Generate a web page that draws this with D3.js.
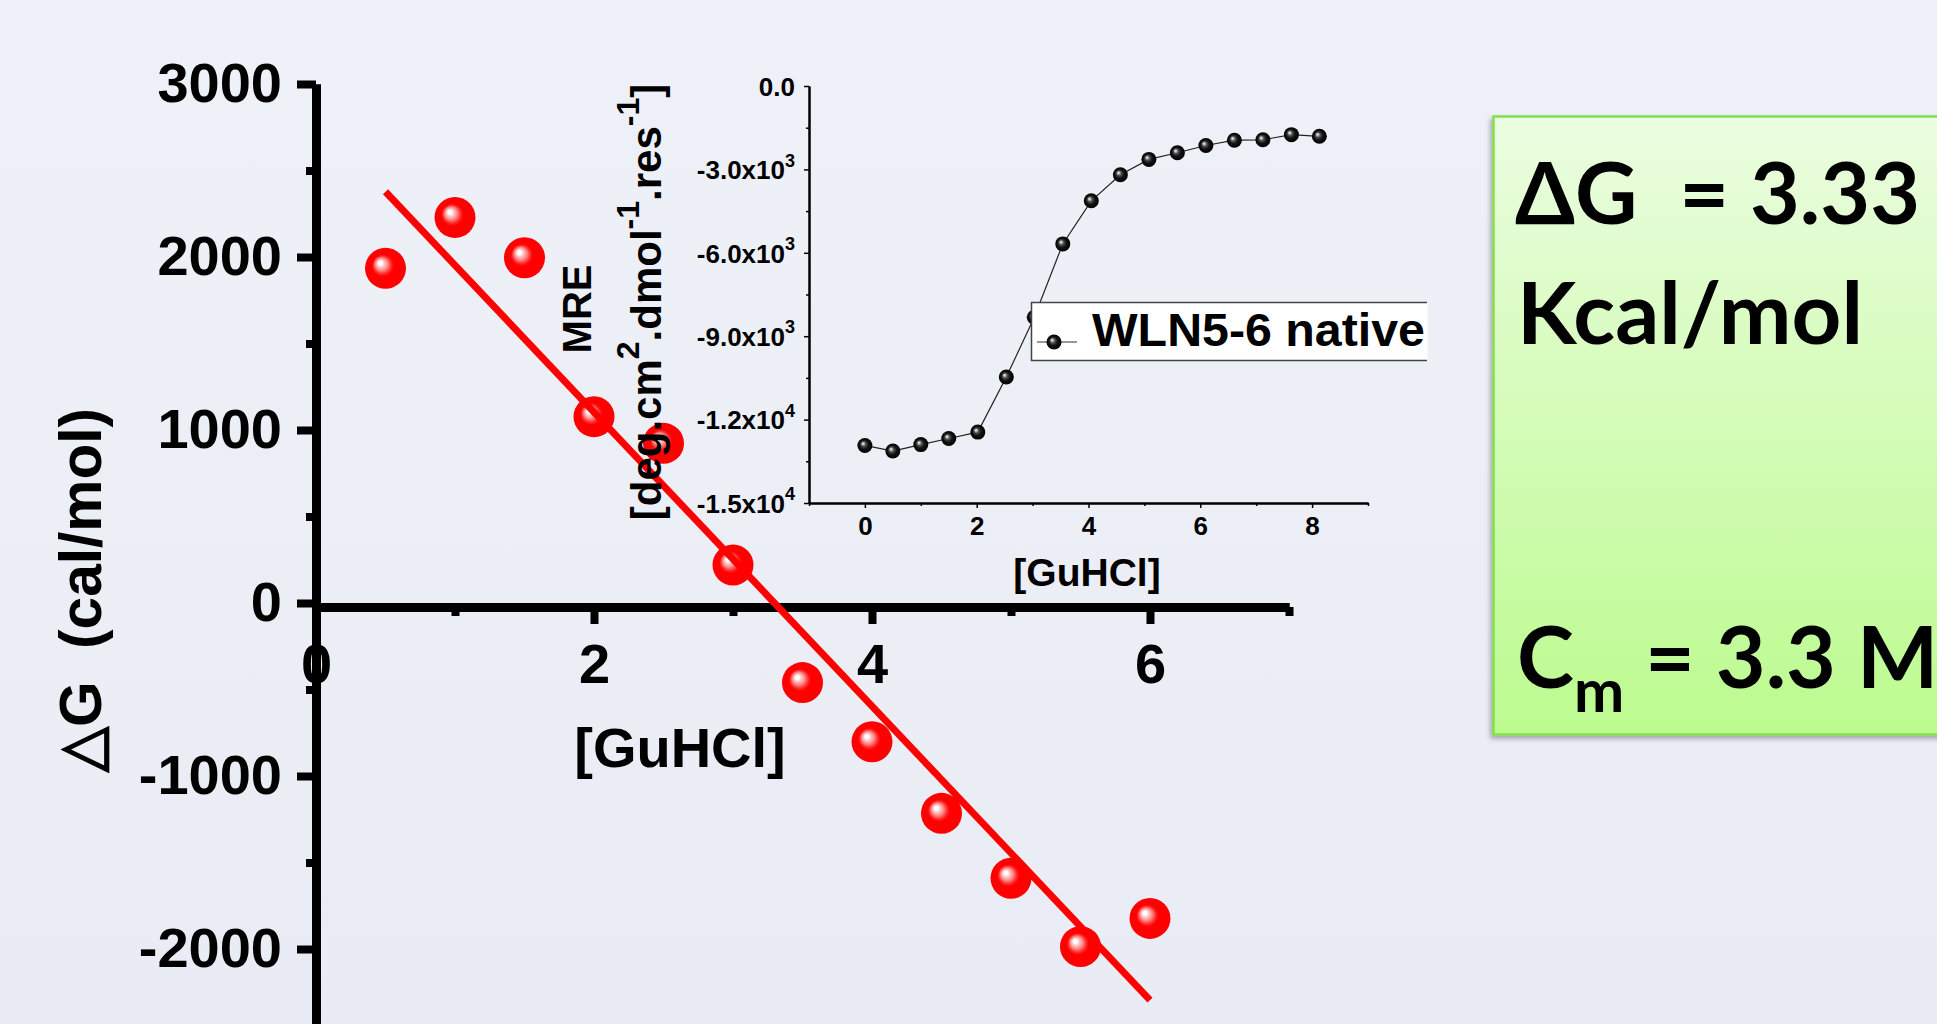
<!DOCTYPE html>
<html>
<head>
<meta charset="utf-8">
<script src="https://cdn.jsdelivr.net/npm/d3@7"></script>
<style>
  body { margin: 0; overflow: hidden; background: #edeff6; }
  text { font-family: "Liberation Sans", Arial, sans-serif; font-weight: bold; }
</style>
</head>
<body>
<svg id="chart"></svg>
<script>
// main plot: deltaG against denaturant concentration
const guhcl = [0.5, 1, 1.5, 2, 2.5, 3, 3.5, 4, 4.5, 5, 5.5, 6];
const deltaG = [1935, 2229, 1996, 1077, 923, 220, -460, -802, -1216, -1591, -1986, -1823];
const fitX = [0.5, 6.0];
const fitY = [2377, -2295];
const mainYTicks = [-2000, -1000, 0, 1000, 2000, 3000];
const mainYMinor = [-2500, -1500, -500, 500, 1500, 2500];
const mainXTicks = [0, 2, 4, 6];
const mainXMinor = [1, 3, 5, 7];

// inset: MRE against denaturant concentration
const insetX = [0, 0.5, 1.0, 1.5, 2.02, 2.53, 3.03, 3.54, 4.05, 4.57, 5.08, 5.59, 6.10, 6.61, 7.12, 7.63, 8.13];
const insetMRE = [-12930, -13130, -12900, -12680, -12450, -10470, -8320, -5680, -4130, -3190, -2640, -2400, -2140, -1950, -1935, -1750, -1810];
const insetYTicks = [0, -3000, -6000, -9000, -12000, -15000];
const insetYMinor = [-1500, -4500, -7500, -10500, -13500];
const insetXTicks = [0, 2, 4, 6, 8];
const insetXMinor = [-1, 1, 3, 5, 7, 9];
const legendLabel = "WLN5-6 native";

const W = 1937, H = 1024;

const svg = d3.select("#chart")
    .attr("width", W)
    .attr("height", H);

const defs = svg.append("defs");

// background
const bg = defs.append("linearGradient").attr("id", "bgGrad")
    .attr("x1", 0).attr("y1", 0).attr("x2", 0).attr("y2", 1);
bg.append("stop").attr("offset", "0%").attr("stop-color", "#eff1f8");
bg.append("stop").attr("offset", "100%").attr("stop-color", "#e9ecf4");

const green = defs.append("linearGradient").attr("id", "greenGrad")
    .attr("x1", 0).attr("y1", 0).attr("x2", 0).attr("y2", 1);
green.append("stop").attr("offset", "0%").attr("stop-color", "#ebfde0");
green.append("stop").attr("offset", "100%").attr("stop-color", "#bcfb8f");

const shadow = defs.append("filter").attr("id", "boxShadow")
    .attr("x", "-10%").attr("y", "-10%").attr("width", "120%").attr("height", "120%");
shadow.append("feDropShadow").attr("dx", -2).attr("dy", 3).attr("stdDeviation", 2.5)
    .attr("flood-color", "#000").attr("flood-opacity", 0.3);

// shiny balls
const red = defs.append("radialGradient").attr("id", "redBall")
    .attr("cx", "50%").attr("cy", "50%").attr("r", "50%").attr("fx", "36%").attr("fy", "36%");
[[0, "#ffffff"], [0.1, "#ffffff"], [0.16, "#ffd0d0"], [0.26, "#ffa0a0"], [0.34, "#ff7070"], [0.44, "#ff2a2a"], [0.54, "#ff0000"], [1, "#ff0000"]]
    .forEach(s => red.append("stop").attr("offset", s[0]).attr("stop-color", s[1]));

const black = defs.append("radialGradient").attr("id", "blackBall")
    .attr("cx", "50%").attr("cy", "50%").attr("r", "50%").attr("fx", "36%").attr("fy", "36%");
[[0, "#f2f2f2"], [0.12, "#c8c8c8"], [0.32, "#505050"], [0.6, "#121212"], [1, "#000000"]]
    .forEach(s => black.append("stop").attr("offset", s[0]).attr("stop-color", s[1]));

svg.append("rect").attr("width", W).attr("height", H).attr("fill", "url(#bgGrad)");

// ---------- summary box ----------
const box = svg.append("g");
box.append("rect")
    .attr("x", 1493.5).attr("y", 116.5)
    .attr("width", 520).attr("height", 618)
    .attr("fill", "url(#greenGrad)")
    .attr("stroke", "#84de4e").attr("stroke-width", 2.5)
    .attr("filter", "url(#boxShadow)");

const boxFont = "Lato, 'Open Sans', 'DejaVu Sans', sans-serif";
box.append("text")
    .attr("x", 1515).attr("y", 224)
    .style("font-family", boxFont).style("white-space", "pre")
    .attr("font-size", 86).attr("fill", "#000")
    .text("ΔG  = 3.33");
box.append("text")
    .attr("x", 1517).attr("y", 344)
    .style("font-family", boxFont)
    .attr("font-size", 86).attr("fill", "#000")
    .attr("textLength", 346).attr("lengthAdjust", "spacingAndGlyphs")
    .text("Kcal/mol");
const cm = box.append("text")
    .attr("x", 1517).attr("y", 688)
    .style("font-family", boxFont).style("white-space", "pre")
    .attr("font-size", 86).attr("fill", "#000");
cm.append("tspan").text("C");
cm.append("tspan").attr("font-size", 60).attr("dy", 24).text("m");
cm.append("tspan").attr("dy", -24).text(" = 3.3 M");

// ---------- main chart ----------
const xMain = d3.scaleLinear().domain([0, 7]).range([316, 1289]);
const yMain = d3.scaleLinear().domain([-3000, 3000]).range([1122, 84]);

function styleAxis(g, domainW, tickW, fontSize) {
    g.attr("font-family", null).attr("font-size", null);
    g.select(".domain").attr("stroke", "#000").attr("stroke-width", domainW);
    g.selectAll(".tick line").attr("stroke", "#000").attr("stroke-width", tickW);
    g.selectAll(".tick text").attr("fill", "#000").attr("font-size", fontSize);
}

const main = svg.append("g");

const xAxisY = yMain(0) + 4;

main.append("g")
    .attr("transform", `translate(0,${xAxisY})`)
    .call(d3.axisBottom(xMain).tickValues(mainXMinor).tickSize(9).tickSizeOuter(0).tickFormat(""))
    .call(g => styleAxis(g, 9, 8, 56));

main.append("g")
    .attr("transform", `translate(0,${xAxisY})`)
    .call(d3.axisBottom(xMain).tickValues(mainXTicks).tickSize(17).tickSizeOuter(0).tickPadding(19).tickFormat(d => String(d)))
    .call(g => styleAxis(g, 9, 8, 56));

main.append("g")
    .attr("transform", `translate(${xMain(0)},0)`)
    .call(d3.axisLeft(yMain).tickValues(mainYMinor).tickSize(10).tickSizeOuter(0).tickFormat(""))
    .call(g => styleAxis(g, 9, 8, 56));

main.append("g")
    .attr("transform", `translate(${xMain(0)},0)`)
    .call(d3.axisLeft(yMain).tickValues(mainYTicks).tickSize(19).tickSizeOuter(0).tickPadding(15).tickFormat(d => String(d)))
    .call(g => styleAxis(g, 9, 8, 56));

main.append("text")
    .attr("x", 680).attr("y", 767)
    .attr("text-anchor", "middle")
    .attr("font-size", 56)
    .text("[GuHCl]");

main.append("text")
    .attr("transform", "translate(101,590) rotate(-90)")
    .attr("text-anchor", "middle")
    .attr("font-size", 60)
    .attr("textLength", 364).attr("lengthAdjust", "spacingAndGlyphs")
    .style("white-space", "pre")
    .text("△G  (cal/mol)");

main.selectAll(".dg")
    .data(guhcl.map((x, i) => ({x: x, y: deltaG[i]})))
    .join("circle")
    .attr("class", "dg")
    .attr("cx", d => xMain(d.x))
    .attr("cy", d => yMain(d.y))
    .attr("r", 20.5)
    .attr("fill", "url(#redBall)");

main.append("path")
    .datum(fitX.map((x, i) => ({x: x, y: fitY[i]})))
    .attr("d", d3.line().x(d => xMain(d.x)).y(d => yMain(d.y)))
    .attr("fill", "none")
    .attr("stroke", "#ff0000")
    .attr("stroke-width", 7);

// ---------- inset ----------
const xIn = d3.scaleLinear().domain([-1, 9]).range([809, 1368]);
const yIn = d3.scaleLinear().domain([-15000, 0]).range([503, 86]);

const inset = svg.append("g");

function sciParts(v) {
    if (v === 0) return ["0.0", null];
    const e = Math.floor(Math.log10(Math.abs(v)));
    const m = v / Math.pow(10, e);
    return [m.toFixed(1) + "x10", String(e)];
}

inset.append("g")
    .attr("transform", `translate(0,${yIn(-15000)})`)
    .call(d3.axisBottom(xIn).tickValues(insetXMinor).tickSize(3).tickSizeOuter(0).tickFormat(""))
    .call(g => styleAxis(g, 2, 1.5, 26));

inset.append("g")
    .attr("transform", `translate(0,${yIn(-15000)})`)
    .call(d3.axisBottom(xIn).tickValues(insetXTicks).tickSize(5).tickSizeOuter(0).tickPadding(9).tickFormat(d => String(d)))
    .call(g => styleAxis(g, 2, 1.5, 26));

inset.append("g")
    .attr("transform", `translate(${xIn(-1)},0)`)
    .call(d3.axisLeft(yIn).tickValues(insetYMinor).tickSize(3).tickSizeOuter(0).tickFormat(""))
    .call(g => styleAxis(g, 2, 1.5, 26));

inset.append("g")
    .attr("transform", `translate(${xIn(-1)},0)`)
    .call(d3.axisLeft(yIn).tickValues(insetYTicks).tickSize(5).tickSizeOuter(0).tickPadding(9).tickFormat(""))
    .call(g => styleAxis(g, 2, 1.5, 26))
    .call(g => g.selectAll(".tick text").each(function(d) {
        const t = d3.select(this);
        const parts = sciParts(d);
        t.attr("dy", "0.36em").text(parts[0]);
        if (parts[1]) t.append("tspan").attr("dy", "-0.7em").attr("font-size", 18).text(parts[1]);
    }));

inset.append("text")
    .attr("x", 1087).attr("y", 586)
    .attr("text-anchor", "middle")
    .attr("font-size", 39)
    .text("[GuHCl]");

inset.append("text")
    .attr("transform", "translate(591,309) rotate(-90)")
    .attr("text-anchor", "middle")
    .attr("font-size", 40)
    .text("MRE");

const unit = inset.append("text")
    .attr("transform", "translate(661,302) rotate(-90)")
    .attr("text-anchor", "middle")
    .attr("font-size", 42);
unit.append("tspan").text("[deg.cm");
unit.append("tspan").attr("font-size", 32).attr("dy", -22).text("2");
unit.append("tspan").attr("dy", 22).text(".dmol");
unit.append("tspan").attr("font-size", 32).attr("dy", -22).text("-1");
unit.append("tspan").attr("dy", 22).text(".res");
unit.append("tspan").attr("font-size", 32).attr("dy", -22).text("-1");
unit.append("tspan").attr("dy", 22).text("]");

const mreData = insetX.map((x, i) => ({x: x, y: insetMRE[i]}));

inset.append("path")
    .datum(mreData)
    .attr("d", d3.line().x(d => xIn(d.x)).y(d => yIn(d.y)))
    .attr("fill", "none")
    .attr("stroke", "#222")
    .attr("stroke-width", 1.2);

inset.selectAll(".mre")
    .data(mreData)
    .join("circle")
    .attr("class", "mre")
    .attr("cx", d => xIn(d.x))
    .attr("cy", d => yIn(d.y))
    .attr("r", 7.5)
    .attr("fill", "url(#blackBall)");

// legend (right side runs off the plot frame)
const legend = inset.append("g");
legend.append("rect")
    .attr("x", 1031.5).attr("y", 302.5)
    .attr("width", 396).attr("height", 58)
    .attr("fill", "#fff");
legend.append("path")
    .attr("d", "M1427,302.5H1031.5V360.5H1427")
    .attr("fill", "none")
    .attr("stroke", "#444")
    .attr("stroke-width", 1.5);
legend.append("line")
    .attr("x1", 1037).attr("x2", 1077)
    .attr("y1", 342).attr("y2", 342)
    .attr("stroke", "#333").attr("stroke-width", 1.2);
legend.append("circle")
    .attr("cx", 1054).attr("cy", 342).attr("r", 7.5)
    .attr("fill", "url(#blackBall)");
legend.append("text")
    .attr("x", 1092).attr("y", 346)
    .attr("font-size", 46)
    .attr("textLength", 333).attr("lengthAdjust", "spacingAndGlyphs")
    .text(legendLabel);
</script>
</body>
</html>
